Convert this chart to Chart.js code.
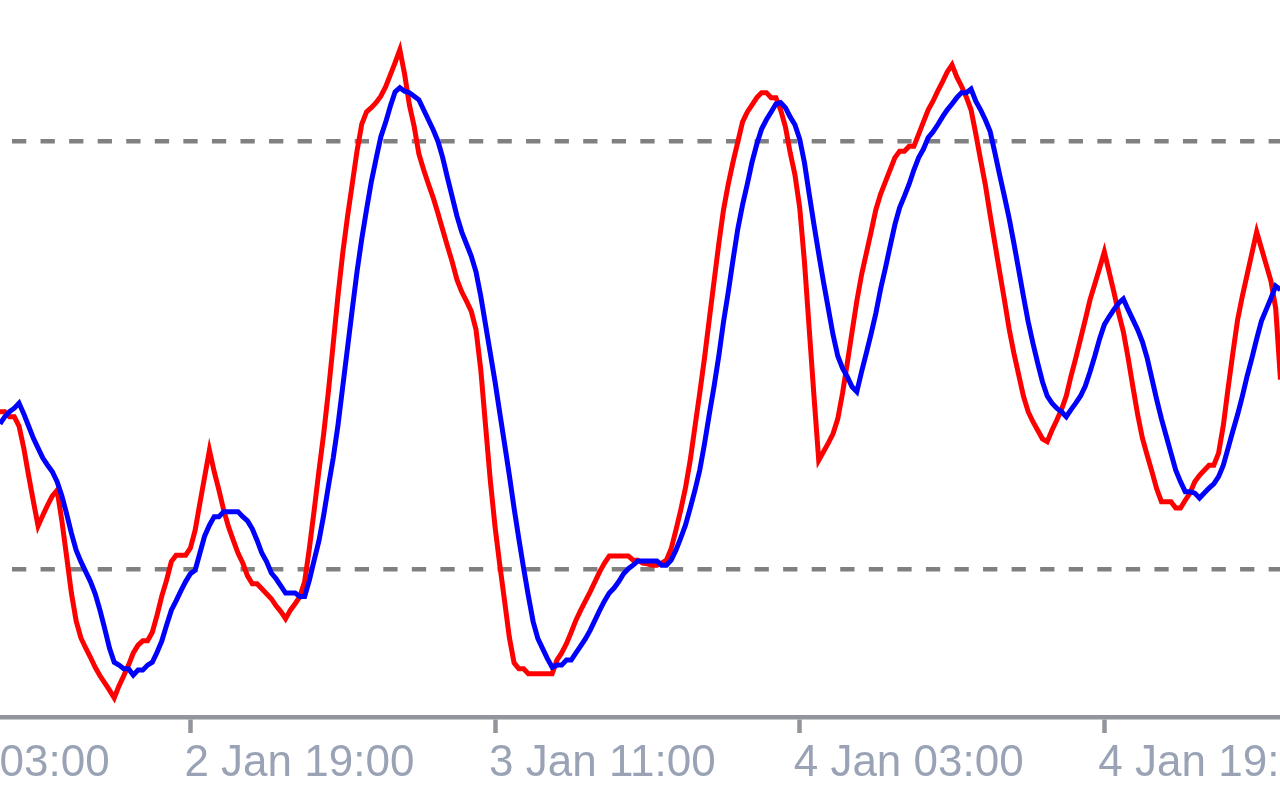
<!DOCTYPE html>
<html>
<head>
<meta charset="utf-8">
<title>Stochastic</title>
<style>
  html, body { margin: 0; padding: 0; background: #fff; width: 1280px; height: 800px; overflow: hidden; }
  /* the canvas is wider than the window so the cut labels at both edges come out right */
  #wrap { position: absolute; left: -140px; top: 0; width: 1500px; height: 800px; }
</style>
<script src="https://cdn.jsdelivr.net/npm/chart.js@4.4.1/dist/chart.umd.min.js"></script>
</head>
<body>
<div id="wrap"><canvas id="grafico"></canvas></div>
<script>
// one value per M15 bar, bar 0 = 2 Jan 09:00
const mainLine = [
  42.1, 42.1, 41.4, 41.4, 40.1, 37.0, 33.2, 29.6, 26.1, 27.6,
  29.0, 30.3, 31.1, 26.8, 21.8, 16.7, 12.8, 10.4, 9.0, 7.7,
  6.3, 5.1, 4.1, 3.1, 2.0, 3.7, 5.1, 6.6, 8.3, 9.4,
  10.0, 10.0, 11.2, 13.6, 16.3, 18.5, 21.1, 22.0, 22.0, 22.0,
  23.0, 25.5, 29.3, 33.0, 36.7, 33.7, 31.1, 28.3, 26.0, 24.1,
  22.3, 20.9, 19.1, 18.0, 18.0, 17.3, 16.6, 15.9, 14.9, 14.1,
  13.1, 14.3, 15.2, 16.2, 18.3, 23.0, 28.3, 33.8, 39.0, 45.0,
  51.6, 58.3, 64.3, 69.4, 74.0, 78.6, 82.4, 84.1, 84.7, 85.4,
  86.3, 87.6, 89.3, 91.0, 92.8, 89.4, 85.1, 82.1, 78.2, 76.0,
  74.0, 72.1, 69.9, 67.6, 65.3, 63.1, 60.6, 58.9, 57.6, 56.2,
  53.6, 48.0, 40.2, 32.5, 26.0, 20.6, 15.6, 10.5, 6.9, 6.1,
  6.1, 5.4, 5.4, 5.4, 5.4, 5.4, 5.4, 7.3, 8.3, 9.6,
  11.2, 12.9, 14.3, 15.6, 16.9, 18.3, 19.7, 20.9, 21.9, 21.9,
  21.9, 21.9, 21.9, 21.3, 21.3, 20.9, 20.8, 20.6, 20.6, 20.9,
  21.3, 22.9, 25.5, 28.3, 31.4, 35.3, 40.0, 44.7, 49.6, 55.0,
  60.3, 65.6, 70.4, 74.0, 77.1, 79.9, 82.7, 84.1, 85.1, 86.1,
  86.8, 86.8, 86.1, 86.1, 84.4, 82.0, 78.4, 75.3, 70.7, 63.1,
  53.7, 44.3, 35.3, 36.5, 37.7, 39.0, 41.1, 44.7, 48.9, 53.3,
  57.6, 61.3, 64.3, 67.3, 70.4, 72.6, 74.3, 76.0, 77.7, 78.6,
  78.6, 79.3, 79.3, 81.0, 82.7, 84.4, 85.6, 87.0, 88.3, 89.7,
  90.7, 89.0, 87.7, 86.2, 84.4, 81.0, 77.4, 73.9, 69.7, 65.7,
  61.7, 57.8, 53.7, 50.3, 47.3, 44.3, 42.1, 40.7, 39.5, 38.3,
  37.9, 39.5, 40.9, 42.4, 44.3, 47.1, 49.6, 52.3, 55.0, 57.8,
  60.0, 62.2, 64.5, 61.7, 58.9, 55.9, 53.3, 49.6, 45.6, 41.7,
  38.4, 36.0, 33.7, 31.3, 29.5, 29.5, 29.5, 28.6, 28.6, 29.7,
  30.7, 32.3, 33.2, 33.9, 34.6, 34.6, 36.3, 40.2, 45.4, 50.3,
  55.0, 58.3, 61.3, 64.3, 67.3, 65.0, 62.7, 60.4, 56.6, 46.6
];

const signalLine = [
  40.4, 41.4, 42.1, 42.6, 43.3, 41.8, 40.1, 38.4, 37.0, 35.6,
  34.6, 33.7, 32.3, 30.3, 27.8, 25.1, 22.7, 21.1, 19.7, 18.3,
  16.6, 14.3, 11.7, 9.0, 7.0, 6.6, 6.1, 6.1, 5.2, 5.9,
  5.9, 6.6, 7.0, 8.4, 10.0, 12.2, 14.3, 15.6, 17.0, 18.3,
  19.4, 19.9, 22.3, 24.7, 26.2, 27.4, 27.4, 28.1, 28.1, 28.1,
  28.1, 27.4, 26.8, 25.7, 24.1, 22.3, 21.1, 19.5, 18.7, 17.7,
  16.7, 16.7, 16.7, 16.2, 16.2, 18.5, 21.3, 24.0, 27.6, 31.7,
  35.6, 40.2, 45.6, 51.0, 56.4, 61.7, 66.3, 70.4, 74.3, 77.5,
  80.6, 82.6, 84.9, 86.9, 87.5, 87.0, 86.8, 86.3, 85.8, 84.4,
  83.0, 81.6, 80.0, 77.7, 74.9, 72.2, 69.5, 67.3, 65.6, 63.9,
  61.7, 58.3, 54.3, 50.3, 46.3, 41.9, 37.6, 33.2, 28.6, 24.3,
  20.2, 16.3, 12.7, 10.3, 8.9, 7.5, 6.3, 6.6, 6.6, 7.3,
  7.3, 8.3, 9.3, 10.3, 11.5, 12.9, 14.3, 15.6, 16.7, 17.4,
  18.3, 19.4, 20.1, 20.6, 21.2, 21.2, 21.2, 21.2, 21.2, 20.6,
  20.6, 21.3, 22.7, 24.4, 26.2, 28.6, 31.1, 33.9, 37.6, 41.7,
  45.6, 49.9, 54.7, 58.9, 63.4, 67.7, 71.1, 74.0, 77.1, 79.6,
  81.7, 83.0, 84.1, 85.2, 85.4, 84.7, 83.4, 82.3, 80.3, 77.0,
  72.6, 68.3, 64.2, 60.3, 56.6, 52.9, 49.9, 48.2, 47.0, 45.6,
  44.9, 47.7, 50.3, 53.0, 55.9, 59.3, 62.2, 65.3, 68.3, 70.7,
  72.3, 74.0, 76.0, 77.7, 78.9, 80.5, 81.3, 82.3, 83.4, 84.4,
  85.2, 86.1, 86.8, 86.8, 87.3, 85.6, 84.4, 83.0, 81.4, 78.4,
  75.3, 72.3, 69.2, 65.7, 62.0, 58.3, 54.7, 51.7, 48.9, 46.3,
  44.3, 43.3, 42.6, 42.1, 41.4, 42.4, 43.3, 44.3, 45.7, 47.7,
  49.9, 52.3, 54.3, 55.4, 56.4, 57.3, 57.9, 56.4, 55.0, 53.6,
  51.9, 49.6, 46.7, 43.8, 41.1, 38.7, 36.3, 33.9, 32.3, 30.9,
  30.9, 30.7, 30.0, 30.7, 31.4, 32.0, 33.0, 34.6, 37.0, 39.4,
  41.7, 44.3, 47.1, 49.6, 52.3, 54.8, 56.4, 58.0, 59.7, 59.2
];

// time axis labels, placed on bar numbers (16 h = 64 bars apart)
const tickBars = [-24, 40, 104, 168, 232];
const tickLabels = ["2 Jan 03:00", "2 Jan 19:00", "3 Jan 11:00", "4 Jan 03:00", "4 Jan 19:00"];

// overbought / oversold levels
const levels = [20, 80];

const toPoints = (arr) => arr.map((v, i) => ({ x: i, y: v }));

const ctx = document.getElementById("grafico").getContext("2d");
new Chart(ctx, {
  type: "line",
  data: {
    datasets: [
      {
        label: "Signal",
        data: toPoints(signalLine),
        borderColor: "#0000ff",
        borderWidth: 5,
        pointRadius: 0,
        tension: 0,
      },
      {
        label: "Main",
        data: toPoints(mainLine),
        borderColor: "#ff0000",
        borderWidth: 5,
        pointRadius: 0,
        tension: 0,
      },
    ],
  },
  options: {
    responsive: true,
    maintainAspectRatio: false,
    animation: false,
    layout: { padding: 0 },
    plugins: {
      legend: { display: false },
      tooltip: { enabled: false },
    },
    scales: {
      x: {
        type: "linear",
        min: -29.41,
        max: 285.71,
        afterBuildTicks: (scale) => {
          scale.ticks = tickBars.map((b) => ({ value: b }));
        },
        afterFit: (scale) => {
          scale.height = 83;
        },
        border: { color: "#92969c", width: 4.5 },
        grid: {
          drawOnChartArea: false,
          tickLength: 16,
          tickWidth: 4.5,
          tickColor: "#92969c",
        },
        ticks: {
          autoSkip: false,
          maxRotation: 0,
          align: "start",
          labelOffset: -6,
          padding: 4,
          color: "#9aa3b5",
          font: { family: "Liberation Sans", size: 44 },
          callback: (value) => {
            const i = tickBars.indexOf(value);
            return i >= 0 ? tickLabels[i] : "";
          },
        },
      },
      y: {
        min: -0.67,
        max: 99.78,
        afterBuildTicks: (scale) => {
          scale.ticks = levels.map((v) => ({ value: v }));
        },
        afterFit: (scale) => {
          scale.width = 0;
        },
        border: { display: false, dash: [14.28, 14.28], dashOffset: 19.36 },
        grid: { color: "#808080", lineWidth: 4.5, drawTicks: false },
        ticks: { display: false },
      },
    },
  },
});
</script>
</body>
</html>
